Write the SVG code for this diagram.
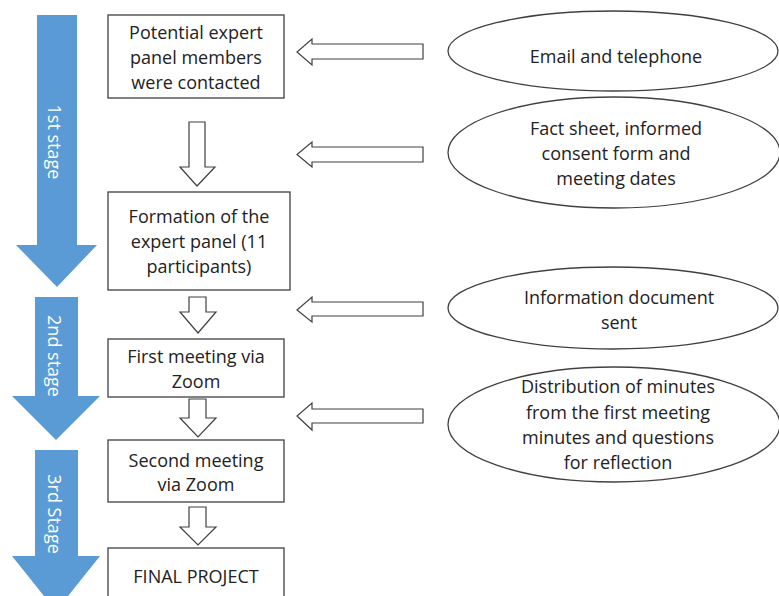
<svg xmlns="http://www.w3.org/2000/svg" width="779" height="596" viewBox="0 0 779 596">
<style>
  .box { fill: #ffffff; stroke: #404040; stroke-width: 1.3; }
  .ell { fill: #ffffff; stroke: #404040; stroke-width: 1.3; }
  .hollow { fill: #ffffff; stroke: #404040; stroke-width: 1.2; stroke-linejoin: miter; }
  .stage { fill: #5B9BD5; stroke: none; }
  .t { font-family: "Open Sans", "Liberation Sans", sans-serif; font-size: 18px; fill: #222222; text-anchor: middle; }
  .st { font-family: "Open Sans", "Liberation Sans", sans-serif; font-size: 18px; fill: #ffffff; text-anchor: middle; }
</style>
<rect width="779" height="596" fill="#ffffff"/>

<!-- Stage arrows -->
<g id="stage1">
  <polygon class="stage" points="37,15 77,15 77,245 97,245 57,287 16,245 37,245"/>
  <text class="st" transform="translate(48,142) rotate(90)">1st stage</text>
</g>
<g id="stage2">
  <polygon class="stage" points="35,297 78,297 78,396 100,396 56,440 12,396 35,396"/>
  <text class="st" transform="translate(48,356) rotate(90)">2nd stage</text>
</g>
<g id="stage3">
  <polygon class="stage" points="35,450 78,450 78,556 100,556 56,611 12,556 35,556"/>
  <text class="st" transform="translate(48,514) rotate(90)">3rd Stage</text>
</g>

<!-- Process boxes -->
<g id="box1">
  <rect class="box" x="108" y="15" width="176" height="83"/>
  <text class="t" x="196" y="39">Potential expert</text>
  <text class="t" x="196" y="64">panel members</text>
  <text class="t" x="196" y="89">were contacted</text>
</g>
<g id="box2">
  <rect class="box" x="108" y="192" width="182" height="98"/>
  <text class="t" x="199" y="223">Formation of the</text>
  <text class="t" x="199" y="248">expert panel (11</text>
  <text class="t" x="199" y="273">participants)</text>
</g>
<g id="box3">
  <rect class="box" x="108" y="339" width="176" height="58"/>
  <text class="t" x="196" y="363">First meeting via</text>
  <text class="t" x="196" y="388">Zoom</text>
</g>
<g id="box4">
  <rect class="box" x="108" y="440" width="176" height="62"/>
  <text class="t" x="196" y="467">Second meeting</text>
  <text class="t" x="196" y="491">via Zoom</text>
</g>
<g id="box5">
  <rect class="box" x="108" y="548" width="176" height="60"/>
  <text class="t" x="196" y="583">FINAL PROJECT</text>
</g>

<!-- Ellipses -->
<g id="ell1">
  <ellipse class="ell" cx="613" cy="51" rx="165" ry="40"/>
  <text class="t" x="616" y="63">Email and telephone</text>
</g>
<g id="ell2">
  <ellipse class="ell" cx="614" cy="152.5" rx="166" ry="55.5"/>
  <text class="t" x="616" y="135">Fact sheet, informed</text>
  <text class="t" x="616" y="160">consent form and</text>
  <text class="t" x="616" y="185">meeting dates</text>
</g>
<g id="ell3">
  <ellipse class="ell" cx="613" cy="308" rx="165" ry="41"/>
  <text class="t" x="619" y="304">Information document</text>
  <text class="t" x="619" y="329">sent</text>
</g>
<g id="ell4">
  <ellipse class="ell" cx="614" cy="424.5" rx="166" ry="57.5"/>
  <text class="t" x="618" y="393">Distribution of minutes</text>
  <text class="t" x="618" y="419">from the first meeting</text>
  <text class="t" x="618" y="444">minutes and questions</text>
  <text class="t" x="618" y="469">for reflection</text>
</g>

<!-- Connectors (hollow block arrows) -->
<g id="connectors">
  <polygon class="hollow" points="189,122 205,122 205,167 215,167 197,186 180,167 189,167"/>
  <polygon class="hollow" points="189,297 206,297 206,312 216,312 198,333 180,312 189,312"/>
  <polygon class="hollow" points="189,399 206,399 206,418 216,418 198,437 180,418 189,418"/>
  <polygon class="hollow" points="189,507 206,507 206,527 216,527 198,545 180,527 189,527"/>

  <polygon class="hollow" points="423,44 312,44 312,39 297,52 312,65 312,59 423,59"/>
  <polygon class="hollow" points="423,147 312,147 312,142 297,154.5 312,167 312,162 423,162"/>
  <polygon class="hollow" points="423,302 312,302 312,297 297,310 312,322 312,316 423,316"/>
  <polygon class="hollow" points="423,409 312,409 312,403 297,416 312,430 312,423 423,423"/>
</g>
</svg>
